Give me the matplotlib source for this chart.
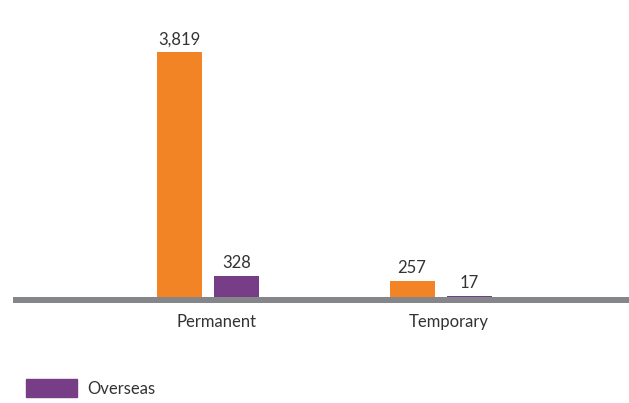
import matplotlib
matplotlib.use("Agg")
import matplotlib.pyplot as plt
import numpy as np
from matplotlib.patches import Patch

categories = ["Permanent", "Temporary"]
domestic = [3819, 257]
overseas = [328, 17]
value_labels_domestic = ["3,819", "257"]
value_labels_overseas = ["328", "17"]

ORANGE = "#F38426"
PURPLE = "#773D87"
GRAY = "#858689"
TEXT = "#333333"

plt.rcParams["font.family"] = ["Lato", "DejaVu Sans"]

W, H = 629, 403
fig = plt.figure(figsize=(W / 100, H / 100), dpi=100)

# axes from x=13px to right edge, y=20px to 303px (from top)
ax = fig.add_axes([13 / W, 1 - 303 / H, 1 - 13 / W, (303 - 20) / H])

px_per_unit = 232.5
scale = 245 / 3819.0  # px per value unit
x = np.arange(len(categories))
width = 45 / px_per_unit
off = 28.5 / px_per_unit

ax.bar(x - off, domestic, width, color=ORANGE, zorder=2)
ax.bar(x + off, overseas, width, color=PURPLE, zorder=2)

ax.set_xlim(-(208 - 13) / px_per_unit, (629 - 208) / px_per_unit)
ax.set_ylim(-6 / scale, (297 - 20) / scale)

ax.axhline(-3 / scale, color=GRAY, linewidth=6 * 0.72, zorder=3)

for xi, v, lab in zip(x - off, domestic, value_labels_domestic):
    ax.annotate(lab, (xi, v), xytext=(0, 5.5), textcoords="offset points",
                ha="center", va="baseline", fontsize=12, color=TEXT)
for xi, v, lab in zip(x + off, overseas, value_labels_overseas):
    ax.annotate(lab, (xi, v), xytext=(0, 5.5), textcoords="offset points",
                ha="center", va="baseline", fontsize=12, color=TEXT)

ax.set_xticks(x + 0.035, categories)
ax.tick_params(axis="x", length=0, pad=8, labelsize=12, labelcolor=TEXT)
ax.set_yticks([])
for s in ax.spines.values():
    s.set_visible(False)

fig.legend(handles=[Patch(color=PURPLE, label="Overseas")], loc="center left",
           bbox_to_anchor=(26 / W, 1 - 388 / H), frameon=False, borderpad=0,
           borderaxespad=0, handlelength=3.05, handleheight=1.25,
           handletextpad=0.65, fontsize=12, labelcolor=TEXT)

fig.savefig("out.png", dpi=100)
